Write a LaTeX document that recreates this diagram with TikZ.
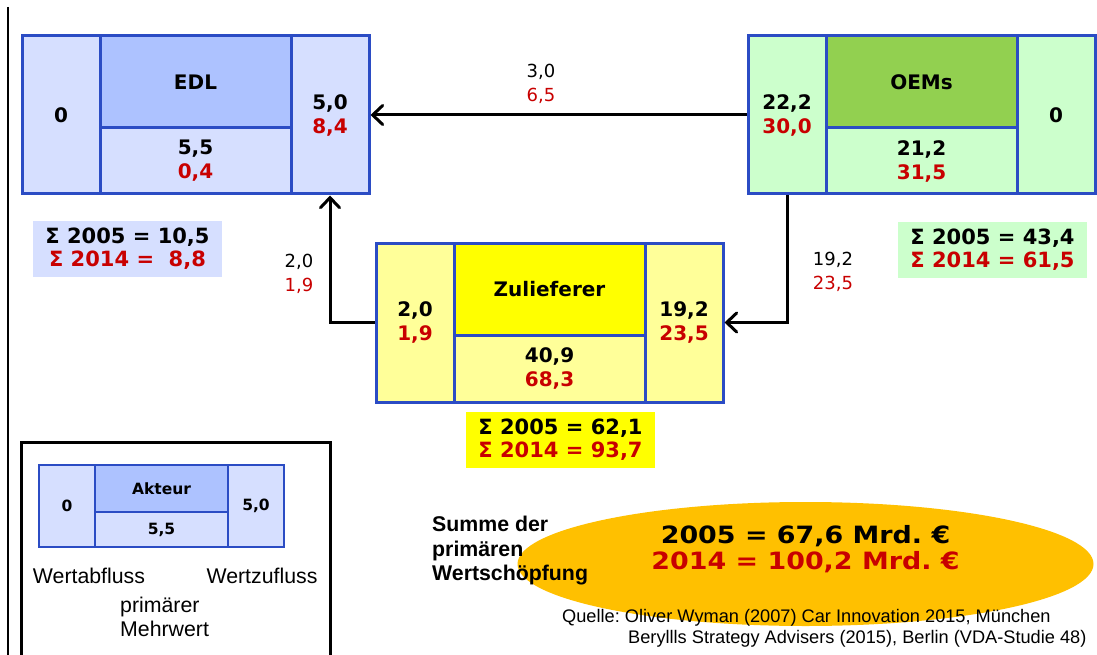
\documentclass[tikz,border=0pt]{standalone}
\usepackage{fontspec}
\setmainfont{DejaVu Sans}
\newfontfamily\arialf{Liberation Sans}
\usetikzlibrary{arrows.meta,shapes.geometric}
\frenchspacing
\definecolor{bdr}{RGB}{43,76,196}
\definecolor{rd}{RGB}{200,0,0}
\definecolor{edlbg}{RGB}{214,223,255}
\definecolor{edlhd}{RGB}{173,194,255}
\definecolor{oembg}{RGB}{204,255,204}
\definecolor{oemhd}{RGB}{146,208,80}
\definecolor{zulbg}{RGB}{255,255,153}
\definecolor{zulhd}{RGB}{255,255,0}
\definecolor{ellc}{RGB}{255,192,0}
\begin{document}
\begin{tikzpicture}[x=1pt,y=-1pt,
  cell/.style={draw=bdr, line width=3pt, inner sep=0pt, align=center,
    font=\bfseries\fontsize{20}{24}\selectfont},
  side/.style={cell, minimum width=78pt, minimum height=158pt},
  head/.style={cell, minimum width=191pt, minimum height=92pt},
  low/.style={cell, minimum width=191pt, minimum height=66pt},
  lcell/.style={draw=bdr, line width=2.5pt, inner sep=0pt, align=center,
    font=\bfseries\fontsize{15.5}{18}\selectfont, fill=edlbg},
  sumbox/.style={inner sep=0pt, minimum width=189pt, minimum height=56pt, align=center,
    font=\bfseries\fontsize{21}{23}\selectfont},
  flow/.style={inner sep=0pt, align=center, font=\fontsize{18}{23.5}\selectfont},
  arr/.style={line width=3pt, -{Straight Barb[length=10pt,width=19pt,line cap=round]}},
  note/.style={inner sep=0pt, align=left, font=\arialf\fontsize{21.3}{24}\selectfont}
]
\useasboundingbox (0,0) rectangle (1097,655);
\draw[line width=2pt] (8,7) -- (8,660);

% EDL
\node[side, fill=edlbg] (edlL) at (61,115) {0};
\node[head, fill=edlhd] (edlT) at (195.5,82) {EDL};
\node[low,  fill=edlbg] (edlB) at (195.5,161) {5,5\\\color{rd}0,4};
\node[side, fill=edlbg] (edlR) at (330,115) {5,0\\\color{rd}8,4};

% OEMs
\node[side, fill=oembg] (oemL) at (787,115) {22,2\\\color{rd}30,0};
\node[head, fill=oemhd] (oemT) at (921.5,82) {OEMs};
\node[low,  fill=oembg] (oemB) at (921.5,161) {21,2\\\color{rd}31,5};
\node[side, fill=oembg] (oemR) at (1056,115) {0};

% Zulieferer
\node[side, fill=zulbg, minimum height=159pt] (zulL) at (415,322.5) {2,0\\\color{rd}1,9};
\node[head, fill=zulhd] (zulT) at (549.5,289) {Zulieferer};
\node[low,  fill=zulbg, minimum height=67pt] (zulB) at (549.5,368.5) {40,9\\\color{rd}68,3};
\node[side, fill=zulbg, minimum height=159pt] (zulR) at (684,322.5) {19,2\\\color{rd}23,5};

% sums
\node[sumbox, fill=edlbg] (sumE) at (127.5,249) {Σ 2005 = 10,5\\\color{rd}Σ 2014 = \ 8,8};
\node[sumbox, fill=oembg] (sumO) at (992.5,249.5) {Σ 2005 = 43,4\\\color{rd}Σ 2014 = 61,5};
\node[sumbox, fill=zulhd] (sumZ) at (560.5,440) {Σ 2005 = 62,1\\\color{rd}Σ 2014 = 93,7};

% flows
\draw[arr] (oemL.west) -- (edlR.east);
\draw[arr] (oemL.south) |- (zulR.east);
\draw[arr] (zulL.west) -| (edlR.south);
\node[flow] (f1) at (541,84) {3,0\\\color{rd}6,5};
\node[flow] (f2) at (299,274) {2,0\\\color{rd}1,9};
\node[flow] (f3) at (833,272) {19,2\\\color{rd}23,5};

% legend
\draw[line width=3pt] (21,662) -- (21,442) -- (330,442) -- (330,662);
\node[lcell, minimum width=56pt, minimum height=82pt] (lgL) at (67,506) {0};
\node[lcell, minimum width=133pt, minimum height=47pt, fill=edlhd] (lgT) at (161.5,488.5) {Akteur};
\node[lcell, minimum width=133pt, minimum height=35pt] (lgB) at (161.5,529.5) {5,5};
\node[lcell, minimum width=56pt, minimum height=82pt] (lgR) at (256,506) {5,0};
\node[note] (wab) at (89,576) {Wertabfluss};
\node[note] (wzu) at (262,576) {Wertzufluss};
\node[note, anchor=north west] (pmw) at (120,597) {primärer\\Mehrwert};

% total
\node[ellipse, fill=ellc, minimum width=576pt, minimum height=124pt, inner sep=0pt] (tot) at (805.5,564) {};
\node[inner sep=0pt, align=center, xscale=1.13, transform shape,
  font=\bfseries\fontsize{23.8}{26}\selectfont] (totT) at (805.5,549) {2005 = 67,6 Mrd. €\\\color{rd}2014 = 100,2 Mrd. €};
\node[note, anchor=north west, font=\arialf\bfseries\fontsize{21.3}{24.5}\selectfont] (summe) at (432,516) {Summe der\\primären\\Wertschöpfung};
\node[note, anchor=base west, font=\arialf\fontsize{18.2}{20}\selectfont] (q1) at (562,622) {Quelle: Oliver Wyman (2007) Car Innovation 2015, München};
\node[note, anchor=base west, font=\arialf\fontsize{18.2}{20}\selectfont] (q2) at (628,643) {Beryllls Strategy Advisers (2015), Berlin (VDA-Studie 48)};
\end{tikzpicture}
\end{document}
